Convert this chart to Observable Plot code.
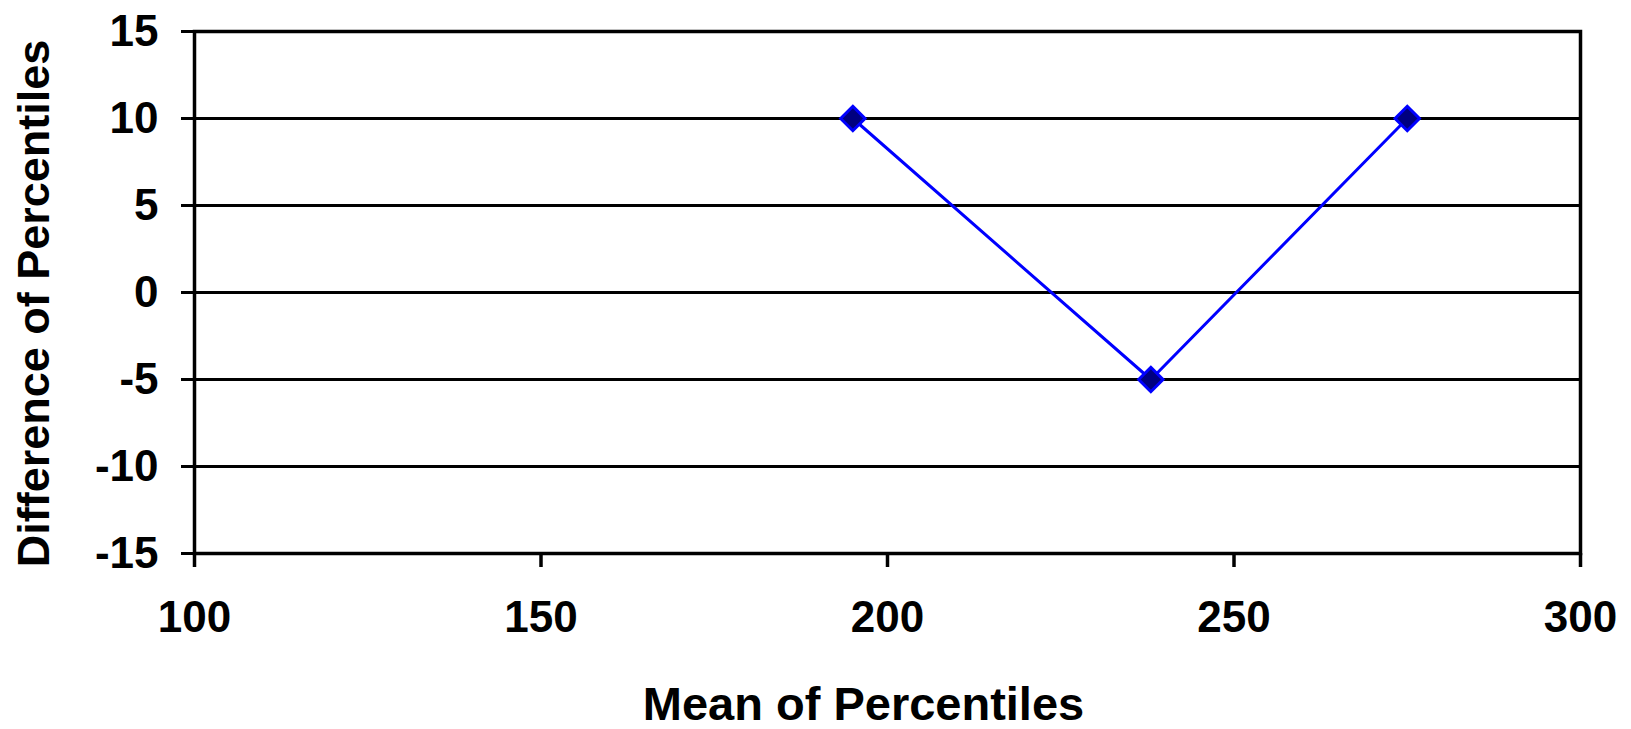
<!DOCTYPE html>
<html>
<head>
<meta charset="utf-8">
<script src="https://cdn.jsdelivr.net/npm/d3@7"></script>
<script src="https://cdn.jsdelivr.net/npm/@observablehq/plot@0.6"></script>
<style>
  html, body { margin: 0; padding: 0; background: #fff; }
</style>
</head>
<body>
<div id="chart"></div>
<script>
// Data
const meanOfPercentiles = [195, 238, 275];
const differenceOfPercentiles = [10, -5, 10];
const xTicks = [100, 150, 200, 250, 300];
const yTicks = [-15, -10, -5, 0, 5, 10, 15];
const xTitle = "Mean of Percentiles";
const yTitle = "Difference of Percentiles";

const points = meanOfPercentiles.map((m, i) => ({mean: m, diff: differenceOfPercentiles[i]}));

const chart = Plot.plot({
  width: 1631,
  height: 729,
  marginLeft: 194,
  marginRight: 51,
  marginTop: 31,
  marginBottom: 176,
  style: {
    fontFamily: "'Liberation Sans', Arial, sans-serif",
    fontWeight: "bold",
    fontSize: "44px",
    background: "#fff",
    color: "#000"
  },
  x: {domain: [100, 300]},
  y: {domain: [-15, 15]},
  marks: [
    Plot.ruleY(yTicks, {stroke: "#000", strokeWidth: 3}),
    Plot.frame({stroke: "#000", strokeWidth: 3.5}),
    Plot.axisX({ticks: xTicks, tickSize: 14, tickPadding: 33, strokeWidth: 3.5, label: null, tickFormat: d => String(d)}),
    Plot.axisY({ticks: yTicks, tickSize: 13, tickPadding: 23, strokeWidth: 3, label: null, tickFormat: d => String(d)}),
    Plot.line(points, {x: "mean", y: "diff", stroke: "#0000FF", strokeWidth: 3}),
    Plot.dot(points, {x: "mean", y: "diff", symbol: "diamond2", r: 11, fill: "#000080", stroke: "#0000FF", strokeWidth: 3}),
    Plot.text([xTitle], {frameAnchor: "bottom", text: d => d, textAnchor: "middle", lineAnchor: "bottom", dy: 166, dx: -24, fontSize: 47, fontWeight: "bold"}),
    Plot.text([yTitle], {frameAnchor: "left", text: d => d, textAnchor: "middle", lineAnchor: "bottom", rotate: -90, dx: -146, dy: 11, fontSize: 45, fontWeight: "bold"})
  ]
});
document.getElementById("chart").appendChild(chart);
</script>
</body>
</html>
